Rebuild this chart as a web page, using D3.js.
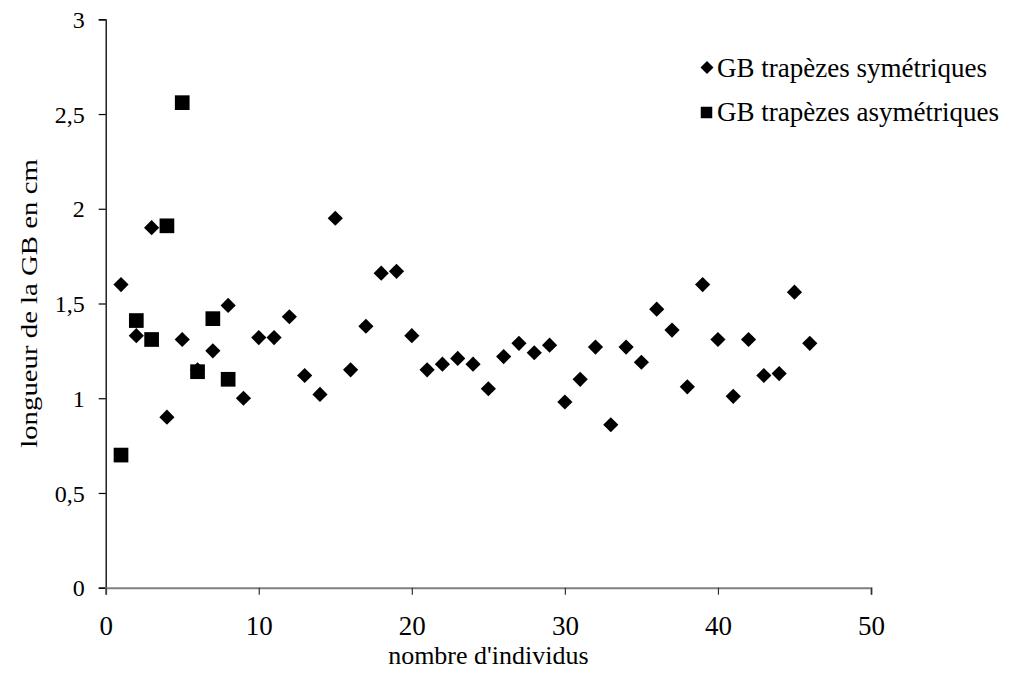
<!DOCTYPE html>
<html><head><meta charset="utf-8">
<script src="https://cdn.jsdelivr.net/npm/d3@7"></script>
<style>
html,body{margin:0;padding:0;background:#fff;}
text{font-family:"Liberation Serif","Times New Roman",serif;fill:#000;}
</style></head>
<body>
<svg id="chart" width="1013" height="673"></svg>
<script>
const symX = [1,2,3,4,5,6,7,8,9,10,11,12,13,14,15,16,17,18,19,20,21,22,23,24,25,26,27,28,29,30,31,32,33,34,35,36,37,38,39,40,41,42,43,44,45,46];
const symY = [1.60,1.33,1.90,0.90,1.31,1.15,1.25,1.49,1.00,1.32,1.32,1.43,1.12,1.02,1.95,1.15,1.38,1.66,1.67,1.33,1.15,1.18,1.21,1.18,1.05,1.22,1.29,1.24,1.28,0.98,1.10,1.27,0.86,1.27,1.19,1.47,1.36,1.06,1.60,1.31,1.01,1.31,1.12,1.13,1.56,1.29];
const asymX = [1,2,3,4,5,6,7,8];
const asymY = [0.70,1.41,1.31,1.91,2.56,1.14,1.42,1.10];
const xTicks = [0,10,20,30,40,50];
const yTicks = [0,0.5,1,1.5,2,2.5,3];
const seriesNames = ["GB trapèzes symétriques","GB trapèzes asymétriques"];
const xTitle = "nombre d'individus";
const yTitle = "longueur de la GB en cm";

const svg = d3.select("#chart");
const x = d3.scaleLinear().domain([0,50]).range([105.7,871]);
const y = d3.scaleLinear().domain([0,3]).range([587.7,19.3]);
const fmt = v => String(v).replace(".", ",");

// y axis
const gy = svg.append("g").attr("transform",`translate(${x(0)},0)`)
  .call(d3.axisLeft(y).tickValues(yTicks).tickSize(7).tickPadding(14).tickFormat(fmt));
gy.select(".domain").attr("stroke","#000").attr("stroke-width",1.3);
gy.selectAll(".tick line").attr("stroke","#000").attr("stroke-width",1.2);
gy.selectAll(".tick text").attr("font-size",24).attr("font-family","Liberation Serif").attr("dy","0.34em");

// x axis
const gx = svg.append("g").attr("transform",`translate(0,${y(0)})`)
  .call(d3.axisBottom(x).tickValues(xTicks).tickSize(7).tickPadding(0).tickFormat(d=>d));
gx.select(".domain").attr("stroke","#808080").attr("stroke-width",2);
gx.selectAll(".tick line").attr("stroke","#333").attr("stroke-width",1.2);
gx.selectAll(".tick text").attr("font-size",27).attr("font-family","Liberation Serif").attr("y",47).attr("dy",0);

// titles
svg.append("text").attr("x",(x(0)+x(50))/2).attr("y",664).attr("text-anchor","middle")
  .attr("font-size",26).text(xTitle);
svg.append("text").attr("transform",`translate(37,${(y(0)+y(3))/2}) rotate(-90) scale(1.2,1)`)
  .attr("text-anchor","middle").attr("font-size",24).text(yTitle);

const diamond = r => `M0,${-r}L${r},0L0,${r}L${-r},0Z`;
const square = s => `M${-s/2},${-s/2}h${s}v${s}h${-s}Z`;

svg.append("g").selectAll("path").data(symX.map((d,i)=>[d,symY[i]])).join("path")
  .attr("d",diamond(7.6)).attr("fill","#000")
  .attr("transform",d=>`translate(${x(d[0])},${y(d[1])})`);
svg.append("g").selectAll("path").data(asymX.map((d,i)=>[d,asymY[i]])).join("path")
  .attr("d",square(14.7)).attr("fill","#000")
  .attr("transform",d=>`translate(${x(d[0])},${y(d[1])})`);

// legend
const lg = svg.append("g");
lg.append("path").attr("d",diamond(6.5)).attr("transform","translate(707,67.5)");
lg.append("text").attr("x",717).attr("y",76.5).attr("font-size",27).text(seriesNames[0]);
lg.append("path").attr("d",square(11.5)).attr("transform","translate(706.5,112.5)");
lg.append("text").attr("x",717).attr("y",121).attr("font-size",27).text(seriesNames[1]);
</script>
</body></html>
